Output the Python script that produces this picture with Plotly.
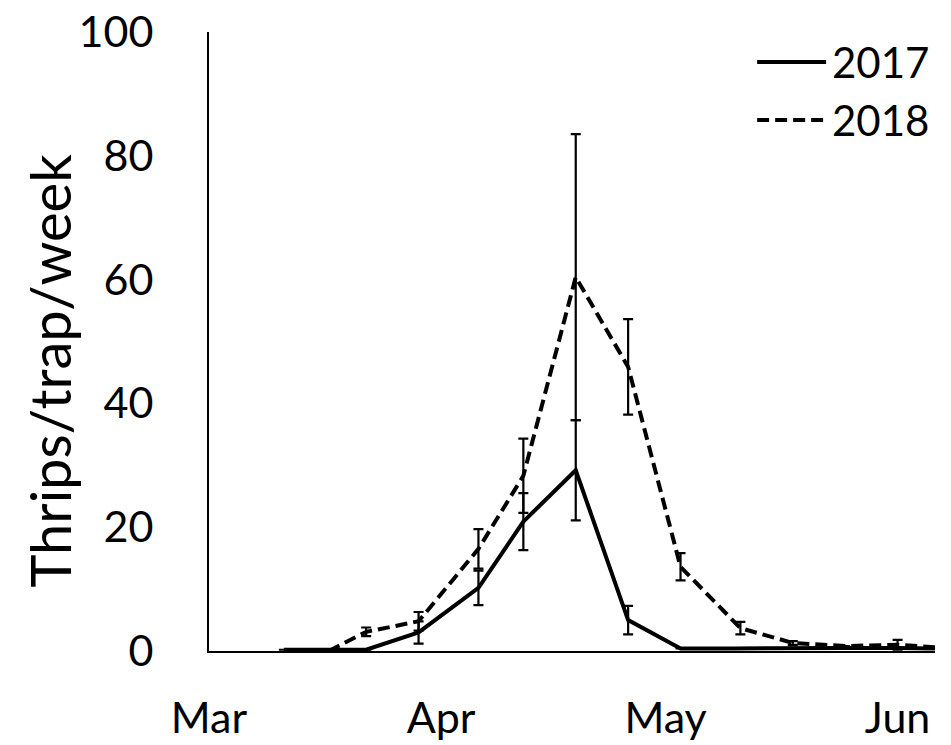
import plotly.graph_objects as go

# Weekly sticky-trap counts; both seasons placed on a shared calendar
dates_2017 = ["2018-03-11", "2018-03-22", "2018-03-29", "2018-04-06", "2018-04-12",
              "2018-04-19", "2018-04-26", "2018-05-03", "2018-05-10", "2018-05-18",
              "2018-05-25", "2018-06-01", "2018-06-06"]
thrips_2017 = [0.2, 0.2, 3.0, 10.2, 20.9, 29.2, 5.0, 0.4, 0.4, 0.5, 0.5, 0.5, 0.4]
se_2017 = [None, None, 1.8, 2.8, 4.6, 8.1, 2.3, None, None, None, None, None, None]

dates_2018 = ["2018-03-17", "2018-03-22", "2018-03-29", "2018-04-06", "2018-04-12",
              "2018-04-19", "2018-04-26", "2018-05-03", "2018-05-11", "2018-05-18",
              "2018-05-25", "2018-06-01", "2018-06-06"]
thrips_2018 = [0.0, 3.1, 4.8, 16.5, 28.3, 60.4, 45.9, 13.6, 3.7, 1.3, 0.8, 1.0, 0.6]
se_2018 = [None, 0.7, 1.5, 3.2, 6.0, 23.1, 7.7, 2.2, 1.0, 0.3, None, 0.8, None]

month_ticks = ["2018-03-01", "2018-04-01", "2018-05-01", "2018-06-01"]
month_labels = ["Mar", "Apr", "May", "Jun"]
y_ticks = [0, 20, 40, 60, 80, 100]

FONT = "Lato"
DASH = "12px,6px"

fig = go.Figure()
err_style = dict(type="data", color="black", thickness=2.2, width=5)
fig.add_trace(go.Scatter(
    x=dates_2017, y=thrips_2017, mode="lines", name="2017",
    line=dict(color="black", width=4),
    error_y=dict(array=se_2017, **err_style),
))
fig.add_trace(go.Scatter(
    x=dates_2018, y=thrips_2018, mode="lines", name="2018",
    line=dict(color="black", width=4, dash=DASH),
    error_y=dict(array=se_2018, **err_style),
))

# Legend drawn as line samples with labels in the top-right corner
legend_items = [("2017", "solid", 0.9515), ("2018", DASH, 0.858)]
for label, dash, ypos in legend_items:
    fig.add_shape(type="line", xref="paper", yref="paper",
                  x0=0.755, x1=0.850, y0=ypos, y1=ypos,
                  line=dict(color="black", width=4, dash=dash))
    fig.add_annotation(xref="paper", yref="paper", x=0.856, y=ypos,
                       text=label, showarrow=False, xanchor="left", yanchor="middle",
                       font=dict(family=FONT, size=42, color="black"))

fig.add_annotation(xref="paper", yref="paper", x=-0.219, y=0.453,
                   text="Thrips/trap/week", textangle=-90, showarrow=False,
                   xanchor="center", yanchor="middle",
                   font=dict(family=FONT, size=56, color="black"))

fig.update_layout(
    width=951, height=745,
    margin=dict(l=209, r=16, t=32, b=94, autoexpand=False),
    paper_bgcolor="white", plot_bgcolor="white",
    showlegend=False,
    font=dict(family=FONT, size=42, color="black"),
)
fig.update_xaxes(
    type="date", range=["2018-03-01", "2018-06-06"],
    tickvals=month_ticks, ticktext=month_labels,
    showgrid=False, zeroline=False, automargin=False,
    showline=True, linecolor="black", linewidth=2,
    ticks="", ticklabelstandoff=28,
    tickfont=dict(family=FONT, size=43, color="black"),
)
fig.update_yaxes(
    range=[0, 100], tickvals=y_ticks,
    showgrid=False, zeroline=False, automargin=False,
    showline=True, linecolor="black", linewidth=2,
    ticks="", ticklabelstandoff=45,
    tickfont=dict(family=FONT, size=43, color="black"),
)

fig.write_html("out.html")
